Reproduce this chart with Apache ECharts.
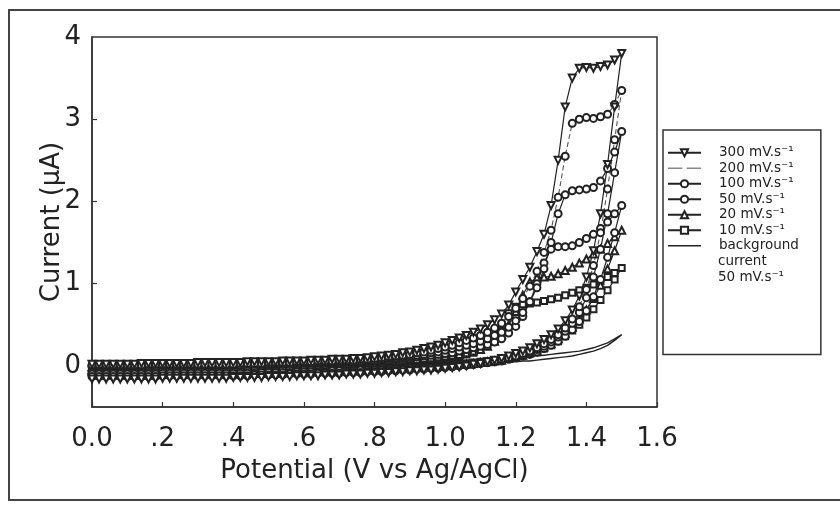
<!DOCTYPE html>
<html>
<head>
<meta charset="utf-8">
<script src="https://cdn.jsdelivr.net/npm/echarts@6/dist/echarts.min.js"></script>
<style>
html,body{margin:0;padding:0;background:#fff;}
#chart{width:840px;height:506px;}
</style>
</head>
<body>
<div id="chart"></div>
<script>
// Potential (V) for forward scan 0 -> 1.50 and reverse scan 1.48 -> 0
const potentialForward = [0,0.02,0.04,0.06,0.08,0.1,0.12,0.14,0.16,0.18,0.2,0.22,0.24,0.26,0.28,0.3,0.32,0.34,0.36,0.38,0.4,0.42,0.44,0.46,0.48,0.5,0.52,0.54,0.56,0.58,0.6,0.62,0.64,0.66,0.68,0.7,0.72,0.74,0.76,0.78,0.8,0.82,0.84,0.86,0.88,0.9,0.92,0.94,0.96,0.98,1,1.02,1.04,1.06,1.08,1.1,1.12,1.14,1.16,1.18,1.2,1.22,1.24,1.26,1.28,1.3,1.32,1.34,1.36,1.38,1.4,1.42,1.44,1.46,1.48,1.5];
const potentialReverse = [1.48,1.46,1.44,1.42,1.4,1.38,1.36,1.34,1.32,1.3,1.28,1.26,1.24,1.22,1.2,1.18,1.16,1.14,1.12,1.1,1.08,1.06,1.04,1.02,1,0.98,0.96,0.94,0.92,0.9,0.88,0.86,0.84,0.82,0.8,0.78,0.76,0.74,0.72,0.7,0.68,0.66,0.64,0.62,0.6,0.58,0.56,0.54,0.52,0.5,0.48,0.46,0.44,0.42,0.4,0.38,0.36,0.34,0.32,0.3,0.28,0.26,0.24,0.22,0.2,0.18,0.16,0.14,0.12,0.1,0.08,0.06,0.04,0.02,0];

// Current (uA)
const i300F = [0.02,0.02,0.02,0.02,0.02,0.02,0.02,0.03,0.03,0.03,0.03,0.03,0.03,0.03,0.03,0.04,0.04,0.04,0.04,0.04,0.04,0.04,0.05,0.05,0.05,0.05,0.05,0.06,0.06,0.06,0.06,0.07,0.07,0.07,0.08,0.08,0.08,0.09,0.09,0.10,0.11,0.12,0.13,0.14,0.16,0.17,0.19,0.21,0.23,0.25,0.28,0.31,0.34,0.37,0.41,0.45,0.50,0.56,0.63,0.74,0.90,1.05,1.20,1.39,1.60,1.95,2.50,3.15,3.50,3.62,3.63,3.62,3.64,3.66,3.72,3.80];
const i300R = [3.15,2.45,1.85,1.40,1.08,0.85,0.68,0.55,0.45,0.38,0.32,0.27,0.22,0.18,0.15,0.12,0.09,0.07,0.05,0.03,0.02,0.00,-0.01,-0.02,-0.03,-0.04,-0.05,-0.05,-0.06,-0.06,-0.07,-0.07,-0.08,-0.08,-0.09,-0.09,-0.10,-0.10,-0.10,-0.11,-0.11,-0.11,-0.12,-0.12,-0.12,-0.12,-0.13,-0.13,-0.13,-0.13,-0.14,-0.14,-0.14,-0.14,-0.14,-0.15,-0.15,-0.15,-0.15,-0.15,-0.15,-0.15,-0.15,-0.15,-0.15,-0.16,-0.16,-0.16,-0.16,-0.16,-0.16,-0.16,-0.16,-0.16,-0.16];
const i200F = [0.01,0.01,0.01,0.01,0.01,0.01,0.01,0.01,0.02,0.02,0.02,0.02,0.02,0.02,0.02,0.02,0.02,0.02,0.02,0.02,0.02,0.03,0.03,0.03,0.03,0.04,0.04,0.04,0.04,0.05,0.05,0.05,0.06,0.06,0.06,0.07,0.07,0.07,0.08,0.08,0.09,0.10,0.11,0.12,0.13,0.14,0.16,0.17,0.19,0.21,0.23,0.25,0.28,0.31,0.34,0.37,0.41,0.46,0.52,0.60,0.70,0.82,0.97,1.15,1.38,1.65,2.05,2.55,2.95,3.00,3.02,3.01,3.03,3.06,3.18,3.35];
const i200R = [2.75,2.15,1.62,1.22,0.93,0.72,0.57,0.46,0.38,0.32,0.27,0.22,0.18,0.15,0.12,0.10,0.08,0.06,0.04,0.03,0.02,0.01,0.00,-0.01,-0.02,-0.03,-0.03,-0.04,-0.04,-0.05,-0.05,-0.06,-0.06,-0.07,-0.07,-0.07,-0.08,-0.08,-0.08,-0.09,-0.09,-0.09,-0.09,-0.10,-0.10,-0.10,-0.10,-0.11,-0.11,-0.11,-0.11,-0.11,-0.12,-0.12,-0.12,-0.12,-0.12,-0.12,-0.12,-0.12,-0.12,-0.12,-0.12,-0.12,-0.12,-0.13,-0.13,-0.13,-0.13,-0.13,-0.13,-0.13,-0.13,-0.13,-0.13];
const i100F = [0.00,0.00,0.00,0.00,0.00,0.00,0.00,0.00,0.00,0.00,0.01,0.01,0.01,0.01,0.01,0.01,0.01,0.01,0.01,0.01,0.01,0.01,0.02,0.02,0.02,0.02,0.03,0.03,0.03,0.03,0.04,0.04,0.04,0.05,0.05,0.05,0.06,0.06,0.06,0.07,0.07,0.08,0.09,0.10,0.11,0.12,0.13,0.14,0.16,0.17,0.19,0.21,0.23,0.25,0.27,0.30,0.33,0.37,0.41,0.47,0.55,0.65,0.78,0.95,1.18,1.50,1.85,2.08,2.13,2.14,2.15,2.17,2.25,2.40,2.60,2.85];
const i100R = [2.35,1.85,1.42,1.08,0.83,0.65,0.52,0.42,0.35,0.29,0.24,0.20,0.16,0.13,0.11,0.09,0.07,0.05,0.04,0.03,0.02,0.01,0.00,-0.01,-0.01,-0.02,-0.02,-0.03,-0.03,-0.03,-0.04,-0.04,-0.04,-0.05,-0.05,-0.05,-0.05,-0.06,-0.06,-0.06,-0.06,-0.07,-0.07,-0.07,-0.07,-0.07,-0.08,-0.08,-0.08,-0.08,-0.08,-0.09,-0.09,-0.09,-0.09,-0.09,-0.09,-0.09,-0.09,-0.09,-0.09,-0.09,-0.09,-0.09,-0.09,-0.10,-0.10,-0.10,-0.10,-0.10,-0.10,-0.10,-0.10,-0.10,-0.10];
const i50F = [-0.01,-0.01,-0.01,-0.01,-0.01,0.00,0.00,0.00,0.00,0.00,0.00,0.00,0.00,0.00,0.00,0.00,0.00,0.00,0.00,0.00,0.00,0.01,0.01,0.01,0.01,0.02,0.02,0.02,0.02,0.03,0.03,0.03,0.03,0.04,0.04,0.04,0.05,0.05,0.05,0.06,0.06,0.07,0.07,0.08,0.09,0.10,0.11,0.12,0.13,0.14,0.15,0.16,0.18,0.20,0.22,0.24,0.26,0.29,0.33,0.40,0.48,0.60,0.78,1.00,1.25,1.42,1.45,1.45,1.46,1.50,1.55,1.60,1.67,1.75,1.85,1.95];
const i50R = [1.62,1.32,1.05,0.84,0.67,0.54,0.44,0.36,0.30,0.25,0.21,0.17,0.14,0.12,0.10,0.08,0.06,0.05,0.04,0.03,0.02,0.01,0.01,0.00,0.00,-0.01,-0.01,-0.01,-0.02,-0.02,-0.02,-0.03,-0.03,-0.03,-0.03,-0.04,-0.04,-0.04,-0.04,-0.04,-0.04,-0.05,-0.05,-0.05,-0.05,-0.05,-0.05,-0.05,-0.06,-0.06,-0.06,-0.06,-0.06,-0.06,-0.06,-0.06,-0.06,-0.06,-0.06,-0.06,-0.06,-0.06,-0.06,-0.06,-0.06,-0.07,-0.07,-0.07,-0.07,-0.07,-0.07,-0.07,-0.07,-0.07,-0.07];
const i20F = [-0.01,-0.01,-0.01,-0.01,-0.01,-0.01,-0.01,-0.01,-0.01,-0.01,-0.01,-0.01,-0.01,-0.01,-0.01,0.00,0.00,0.00,0.00,0.00,0.00,0.00,0.00,0.00,0.00,0.01,0.01,0.01,0.01,0.01,0.01,0.02,0.02,0.02,0.03,0.03,0.03,0.04,0.04,0.04,0.05,0.05,0.06,0.06,0.07,0.08,0.08,0.09,0.10,0.11,0.12,0.13,0.14,0.16,0.18,0.20,0.24,0.30,0.38,0.50,0.66,0.86,1.02,1.07,1.08,1.09,1.12,1.16,1.20,1.25,1.30,1.36,1.42,1.49,1.57,1.65];
const i20R = [1.40,1.18,0.98,0.82,0.68,0.57,0.47,0.39,0.33,0.27,0.23,0.19,0.16,0.13,0.11,0.09,0.07,0.06,0.05,0.04,0.03,0.02,0.02,0.01,0.01,0.00,0.00,0.00,-0.01,-0.01,-0.01,-0.01,-0.02,-0.02,-0.02,-0.02,-0.02,-0.02,-0.02,-0.02,-0.03,-0.03,-0.03,-0.03,-0.03,-0.03,-0.03,-0.03,-0.03,-0.03,-0.04,-0.04,-0.04,-0.04,-0.04,-0.04,-0.04,-0.04,-0.04,-0.04,-0.04,-0.04,-0.04,-0.04,-0.04,-0.05,-0.05,-0.05,-0.05,-0.05,-0.05,-0.05,-0.05,-0.05,-0.05];
const i10F = [-0.02,-0.02,-0.02,-0.02,-0.02,-0.02,-0.02,-0.02,-0.02,-0.02,-0.01,-0.01,-0.01,-0.01,-0.01,-0.01,-0.01,-0.01,-0.01,-0.01,-0.01,-0.01,-0.01,-0.01,-0.01,0.00,0.00,0.00,0.00,0.00,0.00,0.01,0.01,0.01,0.02,0.02,0.02,0.03,0.03,0.03,0.04,0.04,0.05,0.05,0.06,0.06,0.07,0.08,0.08,0.09,0.10,0.11,0.12,0.14,0.16,0.20,0.26,0.36,0.50,0.64,0.72,0.75,0.76,0.77,0.79,0.81,0.83,0.86,0.89,0.92,0.95,0.99,1.03,1.08,1.13,1.19];
const i10R = [1.05,0.92,0.80,0.69,0.59,0.50,0.43,0.36,0.30,0.25,0.21,0.18,0.15,0.13,0.11,0.09,0.08,0.07,0.06,0.05,0.04,0.03,0.03,0.02,0.02,0.01,0.01,0.01,0.00,0.00,0.00,0.00,-0.01,-0.01,-0.01,-0.01,-0.01,-0.01,-0.01,-0.01,-0.02,-0.02,-0.02,-0.02,-0.02,-0.02,-0.02,-0.02,-0.02,-0.02,-0.03,-0.03,-0.03,-0.03,-0.03,-0.03,-0.03,-0.03,-0.03,-0.03,-0.03,-0.03,-0.03,-0.03,-0.03,-0.04,-0.04,-0.04,-0.04,-0.04,-0.04,-0.04,-0.04,-0.04,-0.04];
const bgF = [-0.02,-0.02,-0.02,-0.02,-0.02,-0.02,-0.02,-0.02,-0.02,-0.02,-0.02,-0.02,-0.02,-0.02,-0.02,-0.02,-0.02,-0.02,-0.02,-0.02,-0.02,-0.02,-0.02,-0.02,-0.02,-0.01,-0.01,-0.01,-0.01,-0.01,-0.01,-0.01,-0.01,-0.01,-0.01,0.00,0.00,0.00,0.00,0.00,0.00,0.00,0.00,0.00,0.00,0.01,0.01,0.01,0.01,0.01,0.01,0.02,0.02,0.02,0.03,0.03,0.03,0.04,0.04,0.05,0.05,0.06,0.06,0.07,0.08,0.09,0.10,0.11,0.12,0.14,0.16,0.18,0.21,0.25,0.31,0.38];
const bgR = [0.33,0.28,0.25,0.22,0.20,0.18,0.17,0.16,0.15,0.14,0.13,0.12,0.12,0.11,0.10,0.10,0.09,0.09,0.08,0.08,0.07,0.07,0.06,0.06,0.05,0.05,0.05,0.04,0.04,0.04,0.03,0.03,0.03,0.02,0.02,0.02,0.02,0.01,0.01,0.01,0.01,0.00,0.00,0.00,0.00,0.00,-0.01,-0.01,-0.01,-0.01,-0.01,-0.01,-0.01,-0.01,-0.01,-0.02,-0.02,-0.02,-0.02,-0.02,-0.02,-0.02,-0.02,-0.02,-0.02,-0.03,-0.03,-0.03,-0.03,-0.03,-0.03,-0.03,-0.04,-0.04,-0.04];

const seriesNames = ['300 mV.s⁻¹','200 mV.s⁻¹','100 mV.s⁻¹','50 mV.s⁻¹','20 mV.s⁻¹','10 mV.s⁻¹','background current 50 mV.s⁻¹'];
const xTickLabels = ['0.0','.2','.4','.6','.8','1.0','1.2','1.4','1.6'];
const yTickLabels = ['0','1','2','3','4'];
const yTickValues = [0,1,2,3,4];

function cycle(f, r) {
  const out = [];
  f.forEach((c, i) => out.push([potentialForward[i], c]));
  r.forEach((c, i) => out.push([potentialReverse[i], c]));
  return out;
}

const INK = '#222';
const FONT = 'DejaVu Sans';

function cvSeries(name, f, r, symbol, extra) {
  return Object.assign({
    name: name,
    type: 'line',
    data: cycle(f, r),
    symbol: symbol,
    symbolSize: 7,
    showSymbol: symbol !== 'none',
    lineStyle: { color: INK, width: 1.2 },
    itemStyle: { color: INK, borderWidth: 1 },
    emphasis: { disabled: true },
    smooth: false
  }, extra || {});
}

const chart = echarts.init(document.getElementById('chart'), null, { renderer: 'canvas' });

chart.setOption({
  animation: false,
  backgroundColor: '#fff',
  grid: { left: 92, right: 183, top: 37, bottom: 99, show: true, borderColor: '#333', borderWidth: 1.5, backgroundColor: 'transparent' },
  xAxis: {
    type: 'value', min: 0, max: 1.6, interval: 0.2,
    name: 'Potential (V vs Ag/AgCl)', nameLocation: 'middle', nameGap: 51, nameMoveOverlap: false,
    nameTextStyle: { fontFamily: FONT, fontSize: 26, color: INK },
    axisLine: { show: true, onZero: false, lineStyle: { color: '#333', width: 1.5 } },
    axisTick: { show: true, inside: true, length: 5, lineStyle: { color: '#333', width: 1.2 } },
    axisLabel: { fontFamily: FONT, fontSize: 26, color: INK, margin: 19,
      formatter: v => xTickLabels[Math.round(v / 0.2)] },
    splitLine: { show: false }
  },
  yAxis: {
    type: 'value', min: -0.5, max: 4, interval: 0.5,
    name: 'Current (µA)', nameLocation: 'middle', nameGap: 27, nameRotate: 90, nameMoveOverlap: false,
    nameTextStyle: { fontFamily: FONT, fontSize: 26, color: INK },
    axisLine: { show: true, onZero: false, lineStyle: { color: '#333', width: 1.5 } },
    axisTick: { show: true, inside: true, length: 5, customValues: [1, 2, 3], lineStyle: { color: '#333', width: 1.2 } },
    axisLabel: { fontFamily: FONT, fontSize: 26, color: INK, margin: 11, customValues: yTickValues,
      formatter: v => yTickLabels[yTickValues.indexOf(Math.round(v))] },
    splitLine: { show: false }
  },
  legend: {
    orient: 'vertical', left: 663, top: 130,
    padding: [15, 22, 101, 4],
    itemWidth: 33, itemHeight: 9, itemGap: 0,
    borderColor: '#333', borderWidth: 1.5, backgroundColor: '#fff',
    textStyle: { fontFamily: FONT, fontSize: 13.5, color: INK, lineHeight: 15.5, padding: [0, 0, 0, 13] },
    formatter: n => n.indexOf('background') === 0 ? 'background' : n,
    data: [
      { name: seriesNames[0] },
      { name: seriesNames[1], icon: 'path://M0,0h13v1.5h-13z M17,0h13v1.5h-13z', itemStyle: { color: '#888' } },
      { name: seriesNames[2] },
      { name: seriesNames[3] },
      { name: seriesNames[4] },
      { name: seriesNames[5] },
      { name: seriesNames[6], icon: 'path://M0,0h30v1.5h-30z', itemStyle: { color: INK } }
    ],
    selectedMode: false
  },
  graphic: [
    { type: 'rect', silent: true, z: -10, shape: { x: 9, y: 10, width: 840, height: 490 }, style: { fill: 'none', stroke: '#444', lineWidth: 2 } },
    { type: 'text', silent: true, z: 100, left: 718, top: 254, style: { text: 'current', font: '13.5px "DejaVu Sans"', fill: INK } },
    { type: 'text', silent: true, z: 100, left: 718, top: 270, style: { text: '50 mV.s⁻¹', font: '13.5px "DejaVu Sans"', fill: INK } }
  ],
  series: [
    cvSeries(seriesNames[6], bgF, bgR, 'none', { lineStyle: { color: INK, width: 1.4 } }),
    cvSeries(seriesNames[5], i10F, i10R, 'emptyRect', { symbolSize: 6 }),
    cvSeries(seriesNames[4], i20F, i20R, 'emptyTriangle'),
    cvSeries(seriesNames[3], i50F, i50R, 'emptyCircle'),
    cvSeries(seriesNames[2], i100F, i100R, 'emptyCircle'),
    cvSeries(seriesNames[1], i200F, i200R, 'emptyCircle', { lineStyle: { color: '#555', width: 1.1, type: [5, 3] } }),
    cvSeries(seriesNames[0], i300F, i300R, 'emptyTriangle', { symbolRotate: 180 })
  ]
});
</script>
</body>
</html>
